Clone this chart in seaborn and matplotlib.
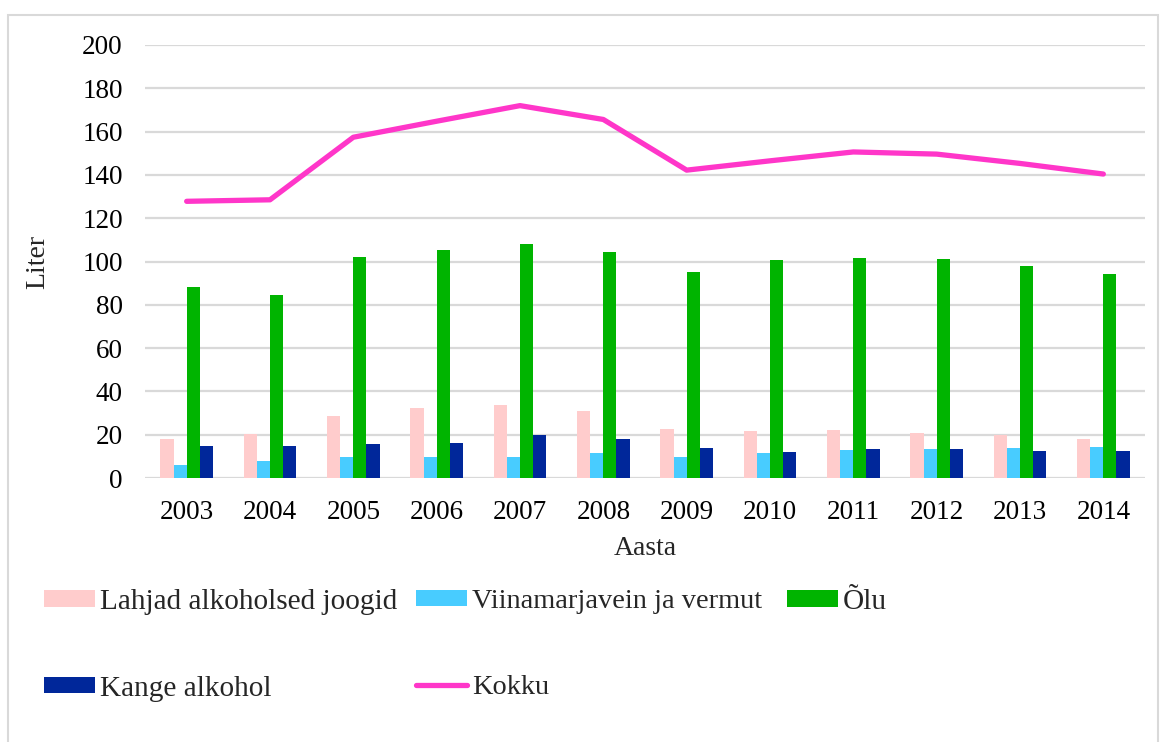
import numpy as np
import pandas as pd
import matplotlib
matplotlib.use("Agg")
import matplotlib.pyplot as plt
import seaborn as sns
from matplotlib.patches import Patch, Rectangle
from matplotlib.lines import Line2D

years = ["2003", "2004", "2005", "2006", "2007", "2008", "2009", "2010", "2011", "2012", "2013", "2014"]
lahjad = [18.0, 20.3, 28.6, 32.2, 33.6, 31.1, 22.8, 21.6, 22.2, 21.0, 19.7, 18.0]
viin = [6.2, 8.0, 9.7, 9.7, 9.7, 11.5, 9.7, 11.5, 12.8, 13.3, 13.9, 14.5]
olu = [88.0, 84.5, 102.3, 105.3, 108.3, 104.2, 95.3, 100.5, 101.7, 101.0, 97.7, 94.2]
kange = [15.0, 15.0, 15.7, 16.3, 19.9, 18.0, 13.9, 12.2, 13.3, 13.3, 12.7, 12.7]
kokku = [127.8, 128.5, 157.4, 164.8, 172.0, 165.6, 142.2, 146.5, 150.6, 149.6, 145.3, 140.4]

series_names = ["Lahjad alkoholsed joogid", "Viinamarjavein ja vermut", "Õlu", "Kange alkohol"]
line_name = "Kokku"
colors = ["#FFCCCC", "#48CCFF", "#00B400", "#00279A"]
line_color = "#FF36C9"

df = pd.DataFrame({
    "Aasta": years * 4,
    "Liter": lahjad + viin + olu + kange,
    "Sari": sum([[n] * len(years) for n in series_names], []),
})

sns.set_theme(style="white")
plt.rcParams["font.family"] = ["Liberation Serif", "DejaVu Serif"]

W, H = 1165, 742
fig = plt.figure(figsize=(W / 100, H / 100), dpi=100)
ax = fig.add_axes([145 / W, 1 - 478 / H, 1000 / W, 433 / H])

sns.barplot(data=df, x="Aasta", y="Liter", hue="Sari", hue_order=series_names,
            palette=colors, width=0.63, gap=0, ax=ax, legend=False,
            saturation=1, linewidth=0, errorbar=None)
sns.lineplot(x=np.arange(len(years)), y=kokku, color=line_color, linewidth=3.8,
             ax=ax, legend=False, solid_capstyle="round", zorder=5)

fs = 19.5
ax.set_xlim(-0.5, len(years) - 0.5)
ax.set_ylim(0, 200)
ax.set_yticks(np.arange(0, 201, 20))
ax.grid(axis="y", color="#D9D9D9", linewidth=1.6)
ax.set_axisbelow(True)
for s in ax.spines.values():
    s.set_visible(False)
ax.tick_params(axis="both", length=0, labelsize=fs, colors="black")
ax.tick_params(axis="y", pad=16)
ax.tick_params(axis="x", pad=16)
ax.set_xlabel("Aasta", fontsize=fs + 0.5, labelpad=8)
ax.set_ylabel("Liter", fontsize=fs + 0.5, labelpad=23)

handles = [Patch(facecolor=c, edgecolor="none") for c in colors]
lh = Line2D([], [], color=line_color, linewidth=3.8, solid_capstyle="round")
cols = [
    (44, 21.1, [handles[0], handles[3]], [series_names[0], series_names[3]]),
    (416, 20.4, [handles[1], lh], [series_names[1], line_name]),
    (787, 21.1, [handles[2]], [series_names[2]]),
]
for x0, lfs, hh, ll in cols:
    px = lfs * 100 / 72
    fig.legend(hh, ll, loc="upper left", bbox_to_anchor=(x0 / W, 1 - 589 / H),
               ncol=1, frameon=False, fontsize=lfs, handlelength=51 / px,
               handleheight=14 / px, handletextpad=5 / px, labelspacing=60.7 / px,
               borderpad=0, borderaxespad=0)

fig.patches.append(Rectangle((8 / W, -0.05), (1158 - 8) / W, 1.05 - 15 / H,
                             transform=fig.transFigure, fill=False,
                             edgecolor="#D9D9D9", linewidth=1.5))

fig.savefig("out.png", dpi=100)
